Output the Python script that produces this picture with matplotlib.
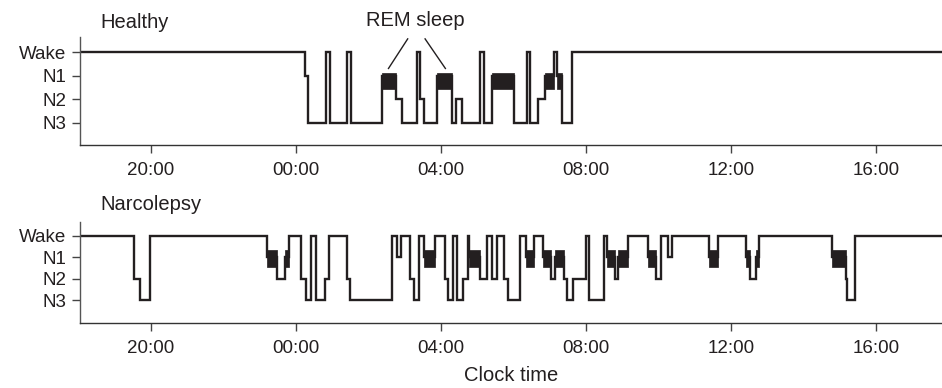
import matplotlib
matplotlib.use("Agg")
import matplotlib.pyplot as plt
import numpy as np

plt.rcParams['font.family'] = ['Liberation Sans', 'DejaVu Sans']

stage_names = ["N3", "N2", "N1", "Wake"]
stage_level = {"N3": 0, "N2": 1, "N1": 2, "W": 3, "R": 2}
tick_times = ["20:00", "00:00", "04:00", "08:00", "12:00", "16:00"]

healthy_start = ["18:00", "00:15", "00:20", "00:49", "00:56", "01:24", "01:31", "02:22",
                 "02:45", "02:55", "03:20", "03:25", "03:32", "03:53", "04:18", "04:24",
                 "04:35", "05:05", "05:11", "05:24", "06:01", "06:22", "06:27", "06:41",
                 "06:52", "07:07", "07:12", "07:20", "07:36"]
healthy_stage = ["W", "N1", "N3", "W", "N3", "W", "N3", "R",
                 "N2", "N3", "W", "N2", "N3", "R", "N3", "N2",
                 "N3", "W", "N3", "R", "N3", "W", "N3", "N2",
                 "R", "W", "R", "N3", "W"]
healthy_end = "17:50"

narco_start = ["18:00", "19:32", "19:41", "19:58", "23:12", "23:28", "23:41", "23:48",
               "00:09", "00:17", "00:24", "00:33", "00:48", "00:55", "01:25", "01:29",
               "02:39", "02:47", "02:53", "03:09", "03:16", "03:24", "03:31", "03:50",
               "04:06", "04:12", "04:20", "04:27", "04:37", "04:45", "04:47", "05:05",
               "05:16", "05:25", "05:33", "05:45", "05:51", "06:11", "06:21", "06:34",
               "06:48", "07:02", "07:09", "07:24", "07:28", "07:39", "08:00", "08:05",
               "08:30", "08:34", "08:48", "08:53", "09:09", "09:42", "09:56", "10:04",
               "10:16", "10:23", "11:24", "11:38", "12:24", "12:32", "12:41", "12:47",
               "14:47", "15:10", "15:12", "15:25"]
narco_stage = ["W", "N2", "N3", "W", "R", "N2", "R", "W",
               "N2", "N3", "W", "N3", "N2", "W", "N2", "N3",
               "W", "N1", "W", "N2", "N3", "W", "R", "W",
               "N2", "N3", "W", "N3", "N2", "W", "R", "N2",
               "W", "N2", "W", "N2", "N3", "W", "R", "W",
               "R", "N2", "R", "N2", "N3", "N2", "W", "N3",
               "W", "R", "N2", "R", "W", "R", "N2", "W",
               "N1", "W", "R", "W", "R", "N2", "R", "W",
               "R", "N2", "N3", "W"]
narco_end = "17:50"


def to_hours(t):
    h, m = t.split(":")
    v = int(h) + int(m) / 60.0
    if v < 18:
        v += 24
    return v


def start_hours(t, first):
    if first and t == "18:00":
        return 18.0
    return to_hours(t)


W, H = 942, 388
fig = plt.figure(figsize=(W / 100, H / 100), dpi=100)

ink = "#231f20"
fs_tick = 13.5
fs_text = 14.5


def draw(ax, starts, stages, end, rem_lo, rem_hi):
    end_h = to_hours(end)
    if end_h < 30:
        end_h += 24
    edges = np.array([start_hours(s, i == 0) for i, s in enumerate(starts)] + [end_h])
    vals = np.array([stage_level[s] for s in stages], dtype=float)
    ax.stairs(vals, edges, baseline=None, color=ink, lw=1.7)
    rem = [(edges[i], edges[i + 1] - edges[i]) for i, s in enumerate(stages) if s == "R"]
    ax.broken_barh(rem, (rem_lo, rem_hi - rem_lo), facecolor=ink, edgecolor=ink, lw=0.5, zorder=3)
    ax.set_xlim(18.04, 41.82)
    ax.set_xticks([to_hours(t) for t in tick_times])
    ax.set_xticklabels(tick_times, fontsize=fs_tick, color=ink)
    ax.set_yticks([0, 1, 2, 3])
    ax.set_yticklabels(stage_names, fontsize=fs_tick, color=ink)
    for s in ["top", "right"]:
        ax.spines[s].set_visible(False)
    ax.spines["left"].set_color("#555555")
    ax.spines["bottom"].set_color("#333333")
    ax.spines["left"].set_linewidth(1.0)
    ax.spines["bottom"].set_linewidth(1.0)
    ax.tick_params(axis="both", direction="out", length=6, width=1, color="#444444", pad=4)
    ax.tick_params(axis="x", pad=6)


ax1 = fig.add_axes([80 / W, (H - 145) / H, 1 - 80 / W, 108 / H])
draw(ax1, healthy_start, healthy_stage, healthy_end, 1.45, 2.1)
ax1.set_ylim(-0.95, 3.65)

ax2 = fig.add_axes([80 / W, (H - 323) / H, 1 - 80 / W, 101 / H])
draw(ax2, narco_start, narco_stage, narco_end, 1.55, 2.33)
ax2.set_ylim(-1.07, 3.64)
ax2.set_xlabel("Clock time", fontsize=fs_text, color=ink, labelpad=6.5)

fig.text(100 / W, 1 - 22 / H, "Healthy", fontsize=fs_text, color=ink, ha="left", va="center")
fig.text(100 / W, 1 - 204 / H, "Narcolepsy", fontsize=fs_text, color=ink, ha="left", va="center")

# REM sleep annotation
ax1.text(27.3, 4.35, "REM sleep", fontsize=fs_text, color=ink, ha="center", va="center", clip_on=False)
ax1.plot([27.08, 26.55], [3.57, 2.31], color=ink, lw=1.0, clip_on=False)
ax1.plot([27.56, 28.12], [3.57, 2.31], color=ink, lw=1.0, clip_on=False)

fig.savefig("out.png", dpi=100)
